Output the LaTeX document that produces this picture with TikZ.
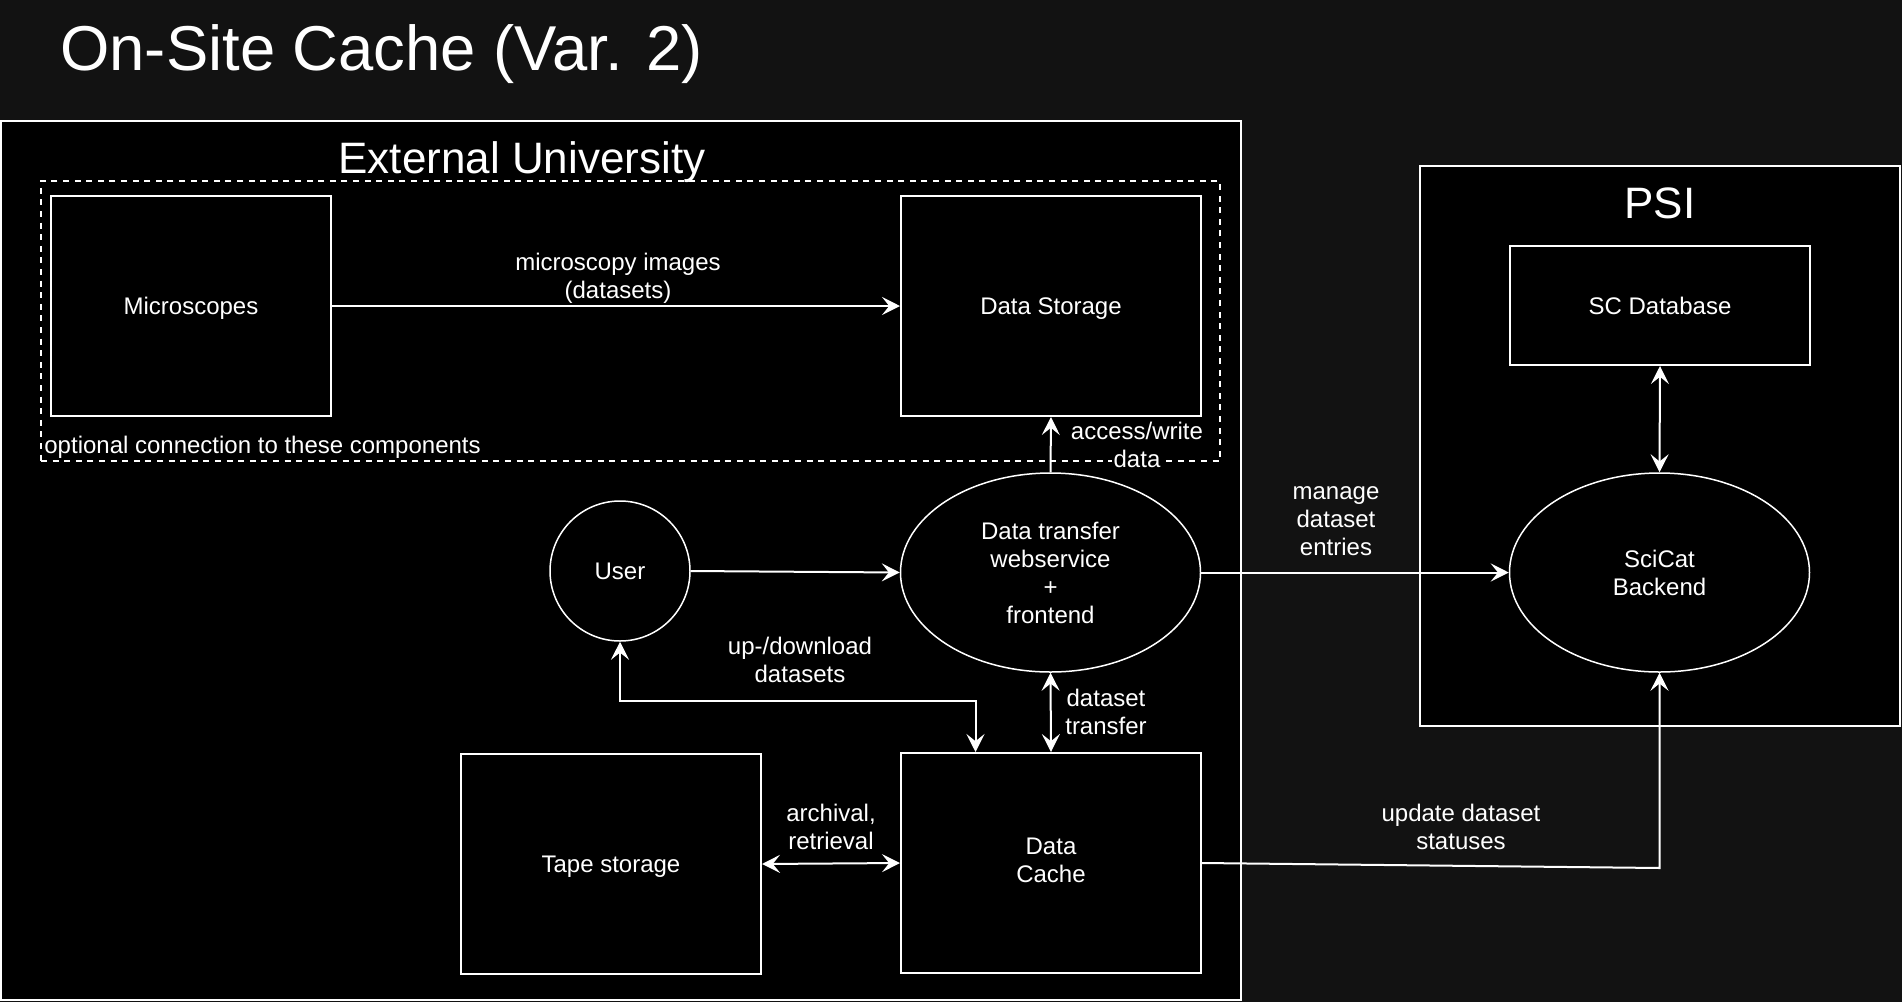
\documentclass[tikz,border=0pt]{standalone}
\usepackage{fontspec}
\setmainfont{Liberation Sans}
\usetikzlibrary{arrows.meta,shapes.geometric,calc}
\definecolor{bgc}{HTML}{121212}
\tikzset{
  tip/.tip={Stealth[length=9pt,width=9pt,inset=3.6pt]},
  lbl/.style={text=white,font=\fontsize{12}{14}\selectfont,align=center,inner sep=1pt},
  container/.style={draw=white,fill=black,line width=1pt,inner sep=0pt},
  box/.style={draw=white,fill=black,line width=1pt,minimum width=150pt,minimum height=110pt,inner sep=0pt,text=white,font=\fontsize{12}{14}\selectfont,align=center},
  oval/.style={ellipse,draw=white,fill=black,line width=0.75pt,minimum width=150pt,minimum height=99.5pt,inner sep=0pt,text=white,font=\fontsize{12}{14}\selectfont,align=center},
  conn/.style={draw=white,line width=1pt,-tip},
  conntwo/.style={draw=white,line width=1pt,tip-tip},
  bigtitle/.style={text=white,font=\fontsize{22}{26}\selectfont,inner sep=0pt},
}
\begin{document}
\begin{tikzpicture}[x=0.5pt,y=-0.5pt]
\fill[bgc] (0,0) rectangle (1902,1002);
\useasboundingbox (0,0) rectangle (1902,1002);

% title
\node[text=white,font=\fontsize{31.7}{38}\selectfont,anchor=base west,inner sep=0pt] (title) at (60,70) {On-Site Cache (Var. 2)};

% containers
\node[container,minimum width=620pt,minimum height=439.5pt] (ext) at (621,560.5) {};
\node[bigtitle,anchor=base] (exttitle) at (522,173) {External University};
\node[draw=white,dash pattern=on 3pt off 2.8pt,line width=1pt,minimum width=589.5pt,minimum height=140pt,inner sep=0pt] (opt) at (630.5,321) {};

\node[container,minimum width=240pt,minimum height=280pt] (psi) at (1660,446) {};
\node[bigtitle,anchor=base] (psititle) at (1660,218) {PSI};

% components
\node[box,minimum width=140pt,text depth=0pt] (mic) at (191,306) {Microscopes};
\node[box,text depth=0pt] (ds) at (1051,306) {Data Storage};
\node[oval] (dt) at (1050.5,572.5) {Data transfer\\webservice\\+\\frontend};
\node[circle,draw=white,fill=black,line width=0.75pt,minimum size=70pt,inner sep=0pt,text=white,font=\fontsize{12}{14}\selectfont] (user) at (620,571) {User};
\node[box] (cache) at (1051,863) {Data\\Cache\vphantom{g}};
\node[box,text depth=0pt] (tape) at (611,864) {Tape storage};
\node[box,minimum height=59.5pt] (db) at (1660,305.5) {SC Database};
\node[oval] (sc) at (1659.5,572.5) {SciCat\\Backend};

% labels
\node[lbl,anchor=west] (lopt) at (42,447) {optional connection to these components};
\node[lbl] (lmic) at (618,278) {microscopy images\\(datasets)};
\node[lbl] (lacc) at (1137,446) {access/write\\{\setlength{\fboxsep}{0.8pt}\colorbox{black}{data}}};
\node[lbl] (lupd) at (800,660) {up-/download\\datasets};
\node[lbl] (ldst) at (1106,711.5) {dataset\\transfer};
\node[lbl] (larc) at (831,827) {archival,\\retrieval};
\node[lbl] (lman) at (1336,521) {manage\\dataset\\entries};
\node[lbl] (lupdate) at (1461,827) {update dataset\\statuses};

% connectors
\coordinate (uc) at ($(cache.north west)+(75.5,0)$);
\coordinate (ub) at (1659.5,868);
\draw[conn] (mic.east) -- (ds.west);
\draw[conn] (dt.north) -- (ds.south);
\draw[conn] (user.east) -- (dt.west);
\draw[conntwo] (user.south) -- ++(0,59) -| (uc);
\draw[conntwo] (dt.south) -- (cache.north);
\draw[conntwo] (tape.east) -- (cache.west);
\draw[conn] (dt.east) -- (sc.west);
\draw[conntwo] (db.south) -- (sc.north);
\draw[conn] (cache.east) -- (ub) -- (sc.south);
\end{tikzpicture}
\end{document}
